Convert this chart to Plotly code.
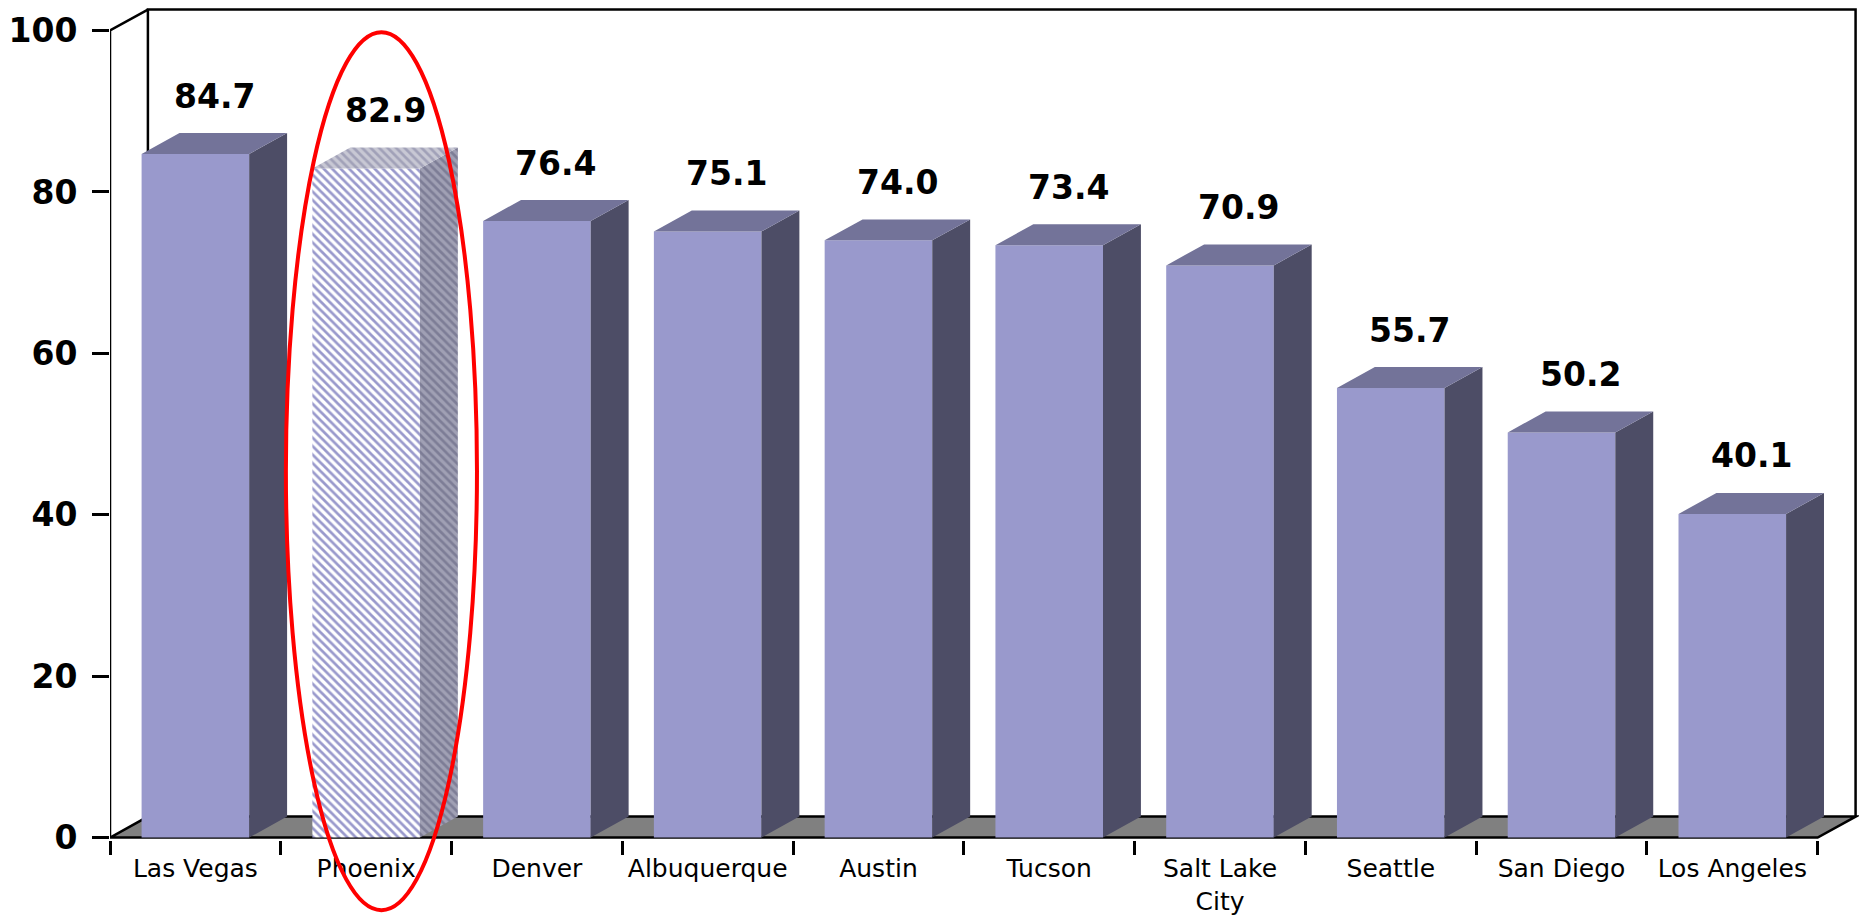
import plotly.graph_objects as go

# ---- data ----
cities = ["Las Vegas", "Phoenix", "Denver", "Albuquerque", "Austin", "Tucson",
          "Salt Lake<br>City", "Seattle", "San Diego", "Los Angeles"]
values = [84.7, 82.9, 76.4, 75.1, 74.0, 73.4, 70.9, 55.7, 50.2, 40.1]
value_labels = ["84.7", "82.9", "76.4", "75.1", "74.0", "73.4", "70.9", "55.7", "50.2", "40.1"]
y_ticks = [0, 20, 40, 60, 80, 100]
highlight = "Phoenix"

# ---- style / geometry ----
FRONT = "#9999CC"
SIDE = "#4D4D66"
TOP = "#737399"
FLOOR = "#808080"
BAR_W = 0.63
DX = 0.222          # depth offset in x (category units)
DY = 2.6            # depth offset in y (value units)
Y_MIN, Y_MAX = -0.3, 103.04
n = len(cities)
idx = list(range(n))
X_LO, X_HI = -0.5, n - 0.5
X_RANGE = [X_LO, X_HI + DX + 0.02]
AX_TOP = y_ticks[-1]
hi = [c.replace("<br>", " ") for c in cities].index(highlight)

fig = go.Figure()

# front faces
fig.add_trace(go.Bar(
    x=idx, y=values, width=BAR_W,
    marker=dict(
        color=FRONT, line=dict(width=0),
        pattern=dict(
            shape=["\\" if i == hi else "" for i in idx],
            fgcolor=FRONT, bgcolor=["white" if i == hi else FRONT for i in idx],
            size=6, solidity=0.45, fillmode="replace"),
    ),
    hoverinfo="skip", showlegend=False,
))


def side_poly(i, v):
    xr = i + BAR_W / 2
    return [xr, xr + DX, xr + DX, xr, xr], [0, DY, v + DY, v, 0]


def top_poly(i, v):
    xl, xr = i - BAR_W / 2, i + BAR_W / 2
    return [xl, xr, xr + DX, xl + DX, xl], [v, v, v + DY, v + DY, v]


def collect(fn, which):
    xs, ys = [], []
    for i, v in zip(idx, values):
        if which(i):
            px, py = fn(i, v)
            xs += px + [None]
            ys += py + [None]
    return xs, ys


for fn, col, pat_fg, pat_bg in [(side_poly, SIDE, "#5A5A78", "#A0A0B4"),
                                (top_poly, TOP, "#7A7A9C", "#C8C8D4")]:
    xs, ys = collect(fn, lambda i: i != hi)
    fig.add_trace(go.Scatter(x=xs, y=ys, mode="lines", fill="toself",
                             fillcolor=col, line=dict(width=0),
                             hoverinfo="skip", showlegend=False))
    xs, ys = collect(fn, lambda i: i == hi)
    fig.add_trace(go.Scatter(x=xs, y=ys, mode="lines", fill="toself",
                             fillcolor=pat_bg, line=dict(width=0),
                             fillpattern=dict(shape="\\", fgcolor=pat_fg, bgcolor=pat_bg,
                                              size=6, solidity=0.45),
                             hoverinfo="skip", showlegend=False))

# ---- walls / floor ----
LW = 2.5
shapes = []
floor_path = (f"M {X_LO},0 L {X_HI},0 L {X_HI + DX},{DY} L {X_LO + DX},{DY} Z")
shapes.append(dict(type="path", path=floor_path, xref="x", yref="y", layer="below",
                   fillcolor=FLOOR, line=dict(color="black", width=LW)))
wall_path = (f"M {X_LO + DX},{DY} L {X_LO + DX},{AX_TOP + DY} "
             f"L {X_HI + DX},{AX_TOP + DY} L {X_HI + DX},{DY}")
shapes.append(dict(type="path", path=wall_path, xref="x", yref="y", layer="below",
                   line=dict(color="black", width=LW)))
# front value axis + connection to back wall
shapes.append(dict(type="path", path=f"M {X_LO},0 L {X_LO},{AX_TOP} L {X_LO + DX},{AX_TOP + DY}",
                   xref="x", yref="y", layer="below", line=dict(color="black", width=LW)))


# highlight ellipse around Phoenix
def to_paper(v):
    return (v - Y_MIN) / (Y_MAX - Y_MIN)


shapes.append(dict(type="circle", xref="x", yref="paper", layer="above",
                   x0=hi - 0.47, x1=hi + 0.649,
                   y0=to_paper(-9.0), y1=to_paper(99.8),
                   line=dict(color="#FF0000", width=4)))

# ---- value labels ----
annotations = []
for i, v, t in zip(idx, values, value_labels):
    annotations.append(dict(x=i + DX / 2, y=v, xref="x", yref="y", text=t,
                            showarrow=False, yanchor="middle", xanchor="center",
                            yshift=58,
                            font=dict(family="DejaVu Sans", size=33, color="black",
                                      weight="bold")))

fig.update_layout(
    width=1860, height=916,
    margin=dict(l=110, r=1, t=6, b=76, autoexpand=False),
    paper_bgcolor="white", plot_bgcolor="white",
    barmode="overlay",
    shapes=shapes, annotations=annotations,
    showlegend=False,
    xaxis=dict(range=X_RANGE, tickmode="array", tickvals=idx, ticktext=cities,
               ticks="", showgrid=False, zeroline=False, showline=False,
               automargin=False,
               tickfont=dict(family="DejaVu Sans", size=25, color="black"),
               ticklabelstandoff=11,
               minor=dict(tickmode="array", tickvals=[i - 0.5 for i in range(n + 1)],
                          ticks="outside", ticklen=14, tickwidth=LW, tickcolor="black",
                          showgrid=False)),
    yaxis=dict(range=[Y_MIN, Y_MAX], tickmode="array", tickvals=y_ticks,
               ticks="outside", ticklen=17, tickwidth=LW, tickcolor="black",
               showgrid=False, zeroline=False, showline=False,
               automargin=False,
               ticklabelstandoff=8,
               tickfont=dict(family="DejaVu Sans", size=33, color="black", weight="bold")),
)

fig.write_html("out.html")
